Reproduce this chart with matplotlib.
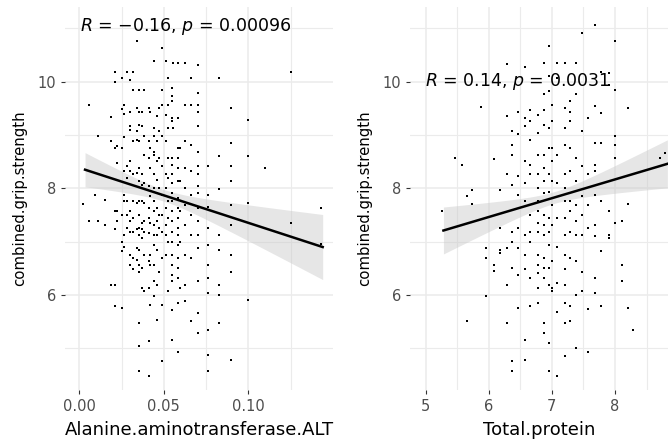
import numpy as np
import matplotlib.pyplot as plt

plt.rcParams['font.family'] = ['DejaVu Sans']
plt.rcParams['mathtext.fontset'] = 'dejavusans'

# ALT vs grip strength (column by column)
alt_x = ([0.0024] + [0.0057] * 2 + [0.0093] + [0.011] * 2 + [0.015] * 2 + [0.0187] * 3
         + [0.021] * 7 + [0.0225] * 4 + [0.025] * 7 + [0.0265] * 8 + [0.028] * 6
         + [0.030] * 11 + [0.032] * 9 + [0.034] * 9 + [0.0355] * 16 + [0.037] * 10
         + [0.0385] * 9 + [0.041] * 11 + [0.042] * 8 + [0.044] * 15 + [0.0458] * 11
         + [0.0473] * 7 + [0.049] * 11 + [0.051] * 9 + [0.0527] * 9 + [0.0546] * 21
         + [0.0556] * 2 + [0.0582] * 17 + [0.0596] * 5 + [0.0625] * 10 + [0.0659] * 9
         + [0.0704] * 17 + [0.0763] * 11 + [0.0828] * 8 + [0.0897] * 9 + [0.10] * 4
         + [0.11] + [0.125] * 2 + [0.143] * 2)
alt_grip = [7.71,
            9.56, 7.38,
            7.88,
            8.98, 7.38,
            7.78, 7.31,
            9.33, 8.88, 6.18,
            10.18, 10.0, 8.76, 7.57, 7.23, 6.18, 5.79,
            8.79, 8.48, 7.57, 7.38,
            10.07, 9.49, 8.76, 7.51, 7.0, 6.82, 5.76,
            9.56, 9.4, 8.96, 8.32, 7.88, 7.76, 7.13, 6.9,
            10.19, 8.41, 8.19, 7.76, 7.51, 7.26,
            10.03, 9.43, 9.16, 9.1, 8.51, 8.32, 7.57, 7.38, 7.19, 6.76, 6.57,
            10.19, 9.85, 8.89, 8.26, 7.76, 7.44, 7.19, 6.69, 6.48,
            10.77, 9.51, 9.07, 8.91, 8.29, 7.73, 7.24, 6.88, 6.66,
            9.85, 9.44, 9.19, 8.88, 8.38, 8.13, 7.76, 7.51, 7.26, 7.13, 6.85, 6.57, 6.44, 5.48, 5.04, 4.57,
            9.44, 9.16, 8.26, 8.07, 7.76, 7.35, 7.23, 7.07, 6.51, 6.13,
            9.85, 8.99, 8.63, 8.10, 7.73, 7.38, 7.19, 6.76, 6.07,
            9.51, 8.88, 8.57, 8.04, 7.63, 7.44, 7.16, 6.63, 6.13, 5.13, 4.48,
            9.44, 8.76, 8.38, 7.85, 7.35, 6.76, 6.57, 5.82,
            10.38, 9.13, 8.99, 8.69, 8.63, 8.26, 8.01, 7.76, 7.57, 7.32, 7.13, 6.94, 6.57, 6.26, 5.98,
            9.35, 8.88, 8.51, 8.16, 7.91, 7.63, 7.38, 7.13, 6.85, 6.19, 5.54,
            9.51, 9.07, 8.57, 8.01, 7.51, 7.26, 6.44,
            10.63, 9.85, 9.57, 8.99, 8.41, 7.88, 7.51, 7.19, 6.69, 5.82, 4.76,
            10.38, 9.38, 8.88, 8.26, 8.01, 7.63, 7.32, 7.13, 6.76,
            10.07, 9.57, 9.13, 8.57, 8.19, 7.76, 7.44, 7.0, 6.07,
            9.88, 9.73, 9.63, 9.32, 9.26, 8.57, 8.44, 8.26, 8.1, 7.91, 7.76, 7.57, 7.38, 7.19, 7.0,
            6.76, 6.57, 6.38, 6.26, 5.72, 5.16,
            10.35, 9.13,
            10.35, 9.32, 8.76, 8.57, 8.38, 8.13, 7.82, 7.63, 7.44, 7.26, 7.13, 6.94, 6.69, 6.51, 6.32,
            5.85, 4.94,
            8.76, 8.13, 7.57, 7.0, 6.13,
            10.35, 9.57, 8.88, 8.38, 8.01, 7.69, 7.32, 6.76, 6.19, 5.88,
            10.07, 9.57, 8.82, 8.32, 7.88, 7.51, 7.13, 6.69, 5.51,
            10.32, 9.79, 9.57, 9.44, 9.16, 8.69, 8.41, 8.26, 8.04, 7.91, 7.63, 7.38, 7.13, 6.88, 6.26,
            5.66, 5.29,
            8.41, 7.88, 7.66, 7.26, 6.94, 6.57, 6.32, 6.04, 5.35, 4.88, 4.57,
            10.07, 8.6, 7.98, 7.13, 6.85, 6.19, 6.01, 5.48,
            9.51, 8.85, 8.41, 8.13, 7.69, 7.32, 6.76, 6.44, 4.79,
            9.29, 8.6, 7.73, 5.91,
            8.38,
            10.18, 7.35,
            7.63, 6.96]

# Total protein vs grip strength
tp_x = ([5.26] + [5.47] + [5.57] + [5.65] * 2 + [5.74] * 2 + [5.87] + [5.96] * 3
        + [6.08] * 3 + [6.17] * 4 + [6.29] * 6 + [6.37] * 9 + [6.47] * 8 + [6.57] * 11
        + [6.65] * 10 + [6.78] * 14 + [6.87] * 16 + [6.96] * 14 + [7.0] * 10 + [7.08] * 9
        + [7.2] * 15 + [7.29] * 11 + [7.38] * 10 + [7.48] * 8 + [7.57] * 6 + [7.68] * 10
        + [7.78] * 6 + [7.9] * 5 + [8.0] * 6 + [8.11] * 3 + [8.2] * 3 + [8.29] + [8.71]
        + [8.8])
tp_grip = [7.57,
           8.57,
           8.43,
           7.85, 5.51,
           7.96, 7.71,
           9.52,
           6.88, 6.69, 5.98,
           8.55, 6.57, 6.46,
           7.96, 7.26, 6.85, 6.79,
           10.34, 9.35, 8.26, 6.88, 6.19, 5.48,
           9.07, 8.82, 8.63, 8.07, 7.19, 7.0, 6.51, 4.76, 4.57,
           9.44, 9.01, 8.23, 7.88, 7.26, 6.88, 6.38, 5.76,
           10.28, 9.32, 9.16, 8.51, 8.1, 7.76, 7.13, 6.76, 6.48, 5.16, 4.79,
           9.47, 9.26, 8.91, 8.44, 8.26, 7.51, 7.19, 7.0, 6.32, 5.79,
           9.38, 9.04, 8.63, 8.26, 8.01, 7.76, 7.57, 7.35, 7.19, 6.76, 6.57, 6.41, 6.13, 5.85,
           10.35, 9.76, 9.47, 9.19, 8.63, 8.38, 8.13, 7.91, 7.51, 7.32, 7.13, 6.69, 6.51, 6.32,
           5.48, 5.29,
           10.66, 10.1, 9.82, 9.13, 8.76, 8.26, 7.94, 7.44, 7.19, 6.94, 6.51, 6.19, 5.1, 4.57,
           9.57, 9.26, 8.76, 8.51, 8.13, 7.69, 7.32, 6.63, 6.13, 6.07,
           10.35, 10.07, 8.63, 8.1, 7.44, 6.91, 6.23, 5.69, 4.48,
           10.35, 9.51, 9.13, 8.82, 8.26, 8.01, 7.76, 7.44, 7.13, 6.76, 6.48, 6.19, 5.85, 5.48, 4.85,
           9.63, 9.44, 9.26, 8.76, 8.32, 7.76, 7.57, 7.19, 6.69, 5.79, 5.51,
           10.35, 9.76, 8.57, 8.13, 7.69, 7.38, 7.13, 6.63, 6.0, 5.01,
           10.91, 9.07, 8.41, 7.85, 7.51, 7.13, 6.44, 6.07,
           9.32, 8.26, 7.69, 7.26, 5.73, 4.94,
           11.07, 9.54, 8.85, 8.44, 8.32, 7.88, 7.32, 7.1, 6.32, 6.04,
           10.19, 9.41, 8.85, 7.76, 6.82, 5.79,
           10.16, 9.94, 7.57, 7.13, 7.07,
           10.77, 9.85, 8.99, 8.82, 8.57, 7.35,
           7.38, 6.57, 6.26,
           9.51, 7.71, 5.76,
           5.35,
           8.57,
           8.67]

# regression lines (start / end of each fitted line)
alt_line_x = [0.0034, 0.144]
alt_line_y = [8.35, 6.90]
tp_line_x = [5.28, 8.83]
tp_line_y = [7.21, 8.46]
# half-width of the grey confidence band: at line start, narrowest, at line end
alt_band = [0.32, 0.11, 0.61]
tp_band = [0.44, 0.11, 0.45]

notes = ['$R$ = \u22120.16, $p$ = 0.00096', '$R$ = 0.14, $p$ = 0.0031']

grey_txt = '#4D4D4D'
grid_c = '#EBEBEB'


def panel(ax, x, y, lx, ly, band, xlim, ticks, labels, minor, xlabel, note, note_pos):
    ax.set_xlim(xlim)
    ax.set_ylim(4.22, 11.40)
    ax.set_xticks(ticks, labels)
    ax.set_xticks(minor, minor=True)
    ax.set_yticks([6, 8, 10], ['6', '8', '10'])
    ax.set_yticks([5, 7, 9, 11], minor=True)
    ax.grid(which='major', color=grid_c, lw=1.1)
    ax.grid(which='minor', color=grid_c, lw=0.8)
    ax.set_axisbelow(True)
    for s in ax.spines.values():
        s.set_visible(False)
    ax.tick_params(which='major', length=3, width=0.8, color='#333333',
                   labelsize=10.5, labelcolor=grey_txt, pad=3.5)
    ax.tick_params(which='minor', length=0)

    ax.scatter(x, y, s=1.2, c='black', marker='s', linewidths=0, zorder=3)

    # fitted line with its hyperbolic confidence band
    xs = np.linspace(lx[0], lx[1], 100)
    yh = np.interp(xs, lx, ly)
    r1 = np.sqrt(band[0] ** 2 - band[1] ** 2)
    r2 = np.sqrt(band[2] ** 2 - band[1] ** 2)
    m = (r2 * lx[0] + r1 * lx[1]) / (r1 + r2)
    k = (r1 + r2) / (lx[1] - lx[0])
    w = np.sqrt(band[1] ** 2 + (k * (xs - m)) ** 2)
    ax.fill_between(xs, yh - w, yh + w, color='#C8C8C8', alpha=0.45, lw=0, zorder=2)
    ax.plot(xs, yh, color='black', lw=1.8, zorder=4)

    ax.set_xlabel(xlabel, fontsize=13, labelpad=5)
    ax.set_ylabel('combined.grip.strength', fontsize=10.7, labelpad=7.5)
    ax.text(note_pos[0], note_pos[1], note, fontsize=12.5, ha='left', va='center', zorder=5)


fig = plt.figure(figsize=(6.68, 4.43), dpi=100)
ax1 = fig.add_axes([65 / 668, 1 - 390 / 443, 268 / 668, 383 / 443])
ax2 = fig.add_axes([410 / 668, 1 - 390 / 443, 258 / 668, 383 / 443])

panel(ax1, alt_x, alt_grip, alt_line_x, alt_line_y, alt_band, (-0.00846, 0.1501),
      [0.0, 0.05, 0.10], ['0.00', '0.05', '0.10'], [0.025, 0.075, 0.125],
      'Alanine.aminotransferase.ALT', notes[0], (0.0005, 11.03))
panel(ax2, tp_x, tp_grip, tp_line_x, tp_line_y, tp_band, (4.75, 8.84), [5, 6, 7, 8],
      ['5', '6', '7', '8'], [5.5, 6.5, 7.5, 8.5], 'Total.protein', notes[1], (4.99, 10.0))

fig.savefig('out.png', dpi=100)
